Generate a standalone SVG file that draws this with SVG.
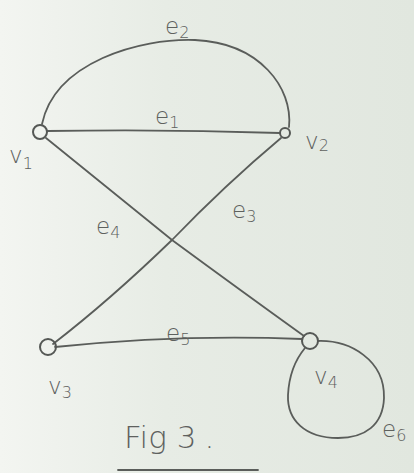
<svg xmlns="http://www.w3.org/2000/svg" width="414" height="473" viewBox="0 0 414 473">
<defs>
<linearGradient id="bg" x1="0" y1="0" x2="1" y2="0">
<stop offset="0" stop-color="#f3f5f1"/>
<stop offset="0.4" stop-color="#e7ece5"/>
<stop offset="1" stop-color="#e1e7df"/>
</linearGradient>
</defs>
<style>
.e{fill:none;stroke:#5a5d5a;stroke-width:1.8;stroke-linecap:round}
.n{fill:none;stroke:#555855;stroke-width:2}
.t{font-family:"DejaVu Sans",sans-serif;fill:#5e615e;font-weight:300}
.lbl{font-size:23px}
.sub{font-size:16px}
</style>
<rect width="414" height="473" fill="url(#bg)"/>
<g id="connectors">
<path id="e1" class="e" d="M47 131 Q165 129 280 133"/>
<path id="e2" class="e" d="M42 124 C55 62 140 38 195 40 C260 43 293 88 289 127"/>
<path id="e3" class="e" d="M281 138 Q225 185 172 240 Q110 300 53 344"/>
<path id="e4" class="e" d="M46 138 Q110 190 172 240 Q240 290 304 336"/>
<path id="e5" class="e" d="M55 347 Q180 334 302 339"/>
<path id="e6" class="e" d="M318 341 C350 340 385 360 384 398 C383 425 365 438 338 438 C305 438 287 420 288 395 C289 375 295 360 305 348"/>
</g>
<g id="v1"><circle class="n" cx="40" cy="132" r="7"/></g>
<g id="v2"><circle class="n" cx="285" cy="133" r="5"/></g>
<g id="v3"><circle class="n" cx="48" cy="347" r="8"/></g>
<g id="v4"><circle class="n" cx="310" cy="341" r="8"/></g>
<g id="labels" class="t">
<text class="lbl" x="165" y="34">e<tspan class="sub" dy="4">2</tspan></text>
<text class="lbl" x="155" y="124">e<tspan class="sub" dy="4">1</tspan></text>
<text class="lbl" x="232" y="218">e<tspan class="sub" dy="4">3</tspan></text>
<text class="lbl" x="96" y="234">e<tspan class="sub" dy="4">4</tspan></text>
<text class="lbl" x="166" y="341">e<tspan class="sub" dy="4">5</tspan></text>
<text class="lbl" x="382" y="437">e<tspan class="sub" dy="4">6</tspan></text>
<text class="lbl" x="9" y="163">v<tspan class="sub" dy="6">1</tspan></text>
<text class="lbl" x="305" y="149">v<tspan class="sub" dy="2">2</tspan></text>
<text class="lbl" x="48" y="394" font-size="26">v<tspan class="sub" dy="4">3</tspan></text>
<text class="lbl" x="314" y="384" font-size="25">v<tspan class="sub" dy="4">4</tspan></text>
<text x="124" y="448" font-size="31">Fig 3<tspan dx="8">.</tspan></text>
</g>
<path class="e" d="M118 470 L258 470"/>
</svg>
